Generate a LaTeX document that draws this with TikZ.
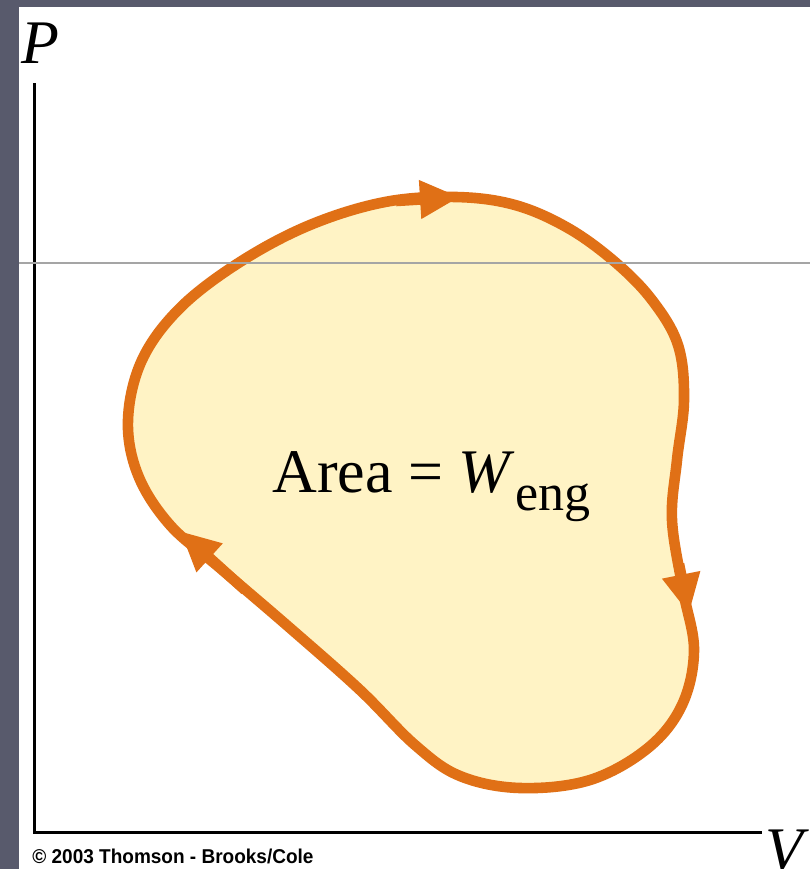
\documentclass[tikz,border=0pt]{standalone}
\usepackage{fontspec}
\usepackage{graphicx}
\setmainfont{Liberation Serif}
\newfontfamily\creditfont{Liberation Sans}
\usetikzlibrary{arrows.meta}
\definecolor{SlideSlate}{RGB}{88,90,108}
\definecolor{CycleOrange}{RGB}{224,112,22}
\definecolor{CycleFill}{RGB}{255,243,197}
\definecolor{RuleGray}{RGB}{165,165,165}
\tikzset{
  axisline/.style={line width=1.5pt,draw=black},
  cycleline/.style={line width=5.3pt,draw=CycleOrange,fill=CycleFill},
  cyclearrow/.style={-{Triangle[length=20pt,width=18pt]},line width=5.3pt,draw=CycleOrange},
  axislabel/.style={font=\fontsize{31}{37}\selectfont\itshape,inner sep=0pt},
  arealabel/.style={font=\fontsize{31}{37}\selectfont,inner sep=0pt},
  creditlabel/.style={font=\creditfont\bfseries\fontsize{10}{12}\selectfont,inner sep=0pt}
}

\begin{document}
\begin{tikzpicture}[x=0.5pt,y=-0.5pt]
\useasboundingbox (0,0) rectangle (810,869);
\clip (0,0) rectangle (810,869);
% slide and panel
\fill[SlideSlate] (0,0) rectangle (810,869);
\fill[white] (19,7) rectangle (810,869);

% axes
\coordinate (ptop) at (34,83);
\coordinate (origin) at (34,832);
\coordinate (vend) at (762,832);
\draw[axisline] (ptop) -- (origin) -- (vend);

% the cycle
\draw[cycleline] plot[smooth cycle,tension=0.6] coordinates {
  (456,197) (515,205) (568,228) (615,262) (652,300) (678,345)
  (684,400) (677,460) (672,520) (683,590) (694,650) (682,705)
  (648,748) (590,780) (520,788) (460,776) (415,745) (360,690)
  (290,628) (220,568) (170,525) (138,475) (128,420) (142,360)
  (180,308) (240,262) (310,225) (385,202)};

% direction arrows
\coordinate (toptail) at (396,201);
\coordinate (toptip) at (460,197);
\coordinate (righttail) at (679,564);
\coordinate (righttip) at (689,614);
\coordinate (lefttail) at (245,590);
\coordinate (lefttip) at (180,531);
\draw[cyclearrow] (toptail) -- (toptip);
\draw[cyclearrow] (righttail) -- (righttip);
\draw[cyclearrow] (lefttail) -- (lefttip);

\node[arealabel,anchor=base west] (area) at (272,492)
  {Area = \textit{W}\raisebox{-9pt}{\fontsize{26}{30}\selectfont eng}};

% thin rule across the slide
\coordinate (ruleleft) at (19,263);
\coordinate (ruleright) at (810,263);
\draw[RuleGray,line width=0.7pt] (ruleleft) -- (ruleright);

\node[axislabel,anchor=base west] (plabel) at (21,63) {P};
\node[axislabel,anchor=base west] (vlabel) at (765,870) {V};
\node[creditlabel,anchor=base west] (credit) at (32,863)
  {\scalebox{0.95}[1]{© 2003 Thomson - Brooks/Cole}};
\end{tikzpicture}
\end{document}
